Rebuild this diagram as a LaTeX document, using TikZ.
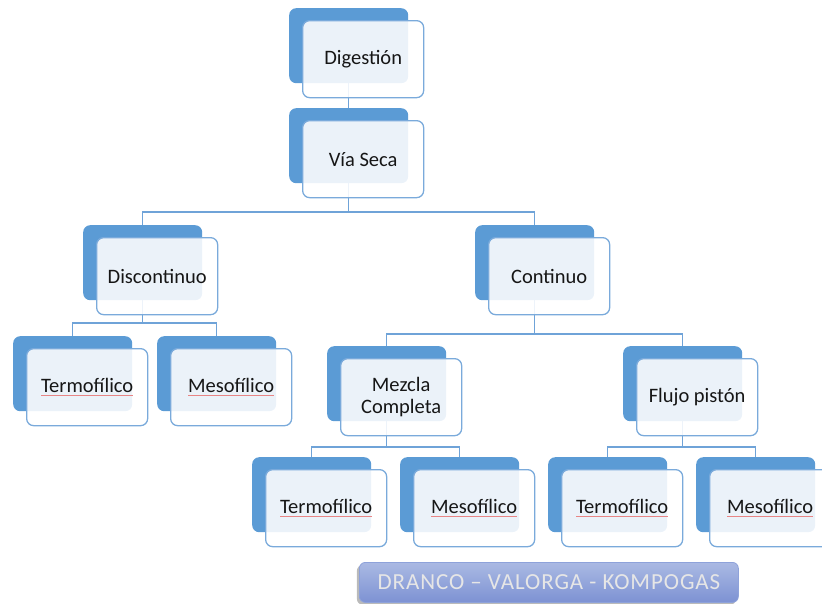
\documentclass[tikz,border=0pt]{standalone}
\usepackage{fontspec}
\setmainfont{Carlito}
\usetikzlibrary{backgrounds,shadows}

\definecolor{accent}{HTML}{5B9BD5}
\definecolor{cardedge}{HTML}{7AAADB}
\definecolor{wire}{HTML}{6FA3D8}
\definecolor{ink}{HTML}{161616}
\definecolor{bannertop}{HTML}{AAB9E3}
\definecolor{bannerbot}{HTML}{7D92D3}
\definecolor{banneredge}{HTML}{8EA2DA}
\definecolor{bannertext}{HTML}{E6E6E6}
\definecolor{spell}{HTML}{E88585}

% word flagged by the spell checker: thin red line under it
\newcommand\misspelt[1]{\setbox0\hbox{#1}\rlap{\color{spell}\raisebox{-3.2pt}{\rule{\wd0}{0.9pt}}}\box0}

\tikzset{
  backcard/.style={fill=accent, draw=none, rounded corners=7pt,
    minimum width=119pt, minimum height=75pt, inner sep=0pt, anchor=north west},
  frontcard/.style={fill=white, fill opacity=0.88, text opacity=1,
    draw=cardedge, line width=1.3pt, rounded corners=7pt,
    minimum width=121pt, minimum height=77pt, inner sep=2pt, anchor=north west,
    align=center, text=ink, font=\fontsize{20.5}{22.5}\selectfont},
  wireline/.style={draw=wire, line width=1.1pt},
  bannerbox/.style={top color=bannertop, bottom color=bannerbot, draw=banneredge,
    line width=0.8pt, rounded corners=6pt, minimum width=379pt, minimum height=40pt,
    inner sep=0pt, anchor=north west, text=bannertext,
    font=\fontsize{23}{25}\selectfont\addfontfeature{LetterSpace=4},
    drop shadow={shadow xshift=-2.5pt, shadow yshift=-2.5pt, opacity=0.45, fill=black!60}},
}

% a card = solid back plate + translucent front plate carrying the label
\newcommand\card[4]{%
  \node[backcard] (b-#1) at (#2,#3) {};
  \node[frontcard] (f-#1) at (#2+13,#3+12) {#4};
}

\begin{document}
\begin{tikzpicture}[x=1pt,y=-1pt]
\useasboundingbox (0,0) rectangle (822,603);

\card{dig}{289}{8}{Digestión}
\card{via}{289}{108}{Vía Seca}
\card{dis}{83}{225}{Discontinuo}
\card{con}{475}{225}{Continuo}
\card{ta}{13}{336}{\misspelt{Termofílico}}
\card{ma}{157}{336}{\misspelt{Mesofílico}}
\card{mez}{327}{346}{Mezcla\\Completa}
\card{flu}{623}{346}{Flujo pistón}
\card{tb}{252}{457}{\misspelt{Termofílico}}
\card{mb}{400}{457}{\misspelt{Mesofílico}}
\card{tc}{548}{457}{\misspelt{Termofílico}}
\card{mc}{696}{457}{\misspelt{Mesofílico}}

\node[bannerbox] (banner) at (359,562) {DRANCO – VALORGA - KOMPOGAS};

% bus levels of the tree
\coordinate (bus1) at (0,212);
\coordinate (bus2) at (0,323);
\coordinate (bus3) at (0,334);
\coordinate (bus4) at (0,447);

\begin{scope}[on background layer]
  \draw[wireline] (b-dig.south) -- (b-via.north);

  \draw[wireline] (b-via.south) -- (b-via.south |- bus1);
  \draw[wireline] (b-dis.north) |- (b-via.south |- bus1) -| (b-con.north);

  \draw[wireline] (b-dis.south) -- (b-dis.south |- bus2);
  \draw[wireline] (b-ta.north) |- (b-dis.south |- bus2) -| (b-ma.north);

  \draw[wireline] (b-con.south) -- (b-con.south |- bus3);
  \draw[wireline] (b-mez.north) |- (b-con.south |- bus3) -| (b-flu.north);

  \draw[wireline] (b-mez.south) -- (b-mez.south |- bus4);
  \draw[wireline] (b-tb.north) |- (b-mez.south |- bus4) -| (b-mb.north);

  \draw[wireline] (b-flu.south) -- (b-flu.south |- bus4);
  \draw[wireline] (b-tc.north) |- (b-flu.south |- bus4) -| (b-mc.north);
\end{scope}
\end{tikzpicture}
\end{document}
